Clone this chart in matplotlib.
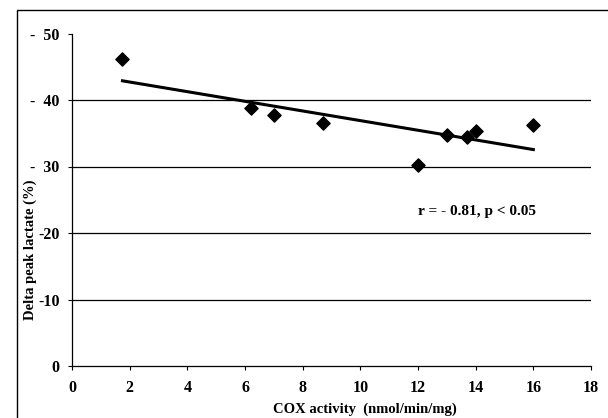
import numpy as np
import matplotlib
matplotlib.use("Agg")
import matplotlib.pyplot as plt
from matplotlib.patches import Rectangle

cox = [1.75, 6.2, 7.0, 8.7, 12.0, 13.0, 13.7, 14.0, 16.0]
lactate = [46.2, 38.8, 37.7, 36.6, 30.3, 34.8, 34.4, 35.3, 36.3]
yticks = [0, 10, 20, 30, 40, 50]
ytick_labels = ["0", "-10", "-20", "-  30", "-  40", "-  50"]
xticks = [0, 2, 4, 6, 8, 10, 12, 14, 16, 18]
annotation = "r = - 0.81, p < 0.05"

plt.rcParams['font.family'] = ['Liberation Serif', 'DejaVu Serif']
plt.rcParams['font.weight'] = 'bold'

fig = plt.figure(figsize=(6.08, 4.18), dpi=100)
ax = fig.add_axes([72/608, 1-366/418, (591-72)/608, (366-33.5)/418])

# outer frame
fig.patches.append(Rectangle((17/608, -0.1), 1.2, 0.1 + 1 - 10/418, transform=fig.transFigure,
                             fill=False, lw=1.0, ec='black'))

for yv in yticks[1:-1]:
    ax.axhline(yv, color='black', lw=0.9, zorder=1)

ax.scatter(cox, lactate, marker='D', s=45, color='black', zorder=3)

coef = np.polyfit(cox, lactate, 1)
xs = np.array([min(cox), max(cox)])
ax.plot(xs, np.polyval(coef, xs), color='black', lw=2.2, zorder=2)

ax.set_xlim(0, 18)
ax.set_ylim(0, 50)
ax.set_xticks(xticks)
ax.set_xticklabels([str(v) for v in xticks], fontsize=11.5, fontweight='bold')
ax.set_yticks(yticks)
ax.set_yticklabels(ytick_labels, fontsize=11.5, fontweight='bold')
ax.tick_params(axis='both', direction='out', length=3, width=0.8)
ax.tick_params(axis='x', pad=7)
ax.tick_params(axis='y', pad=6)
ax.spines['top'].set_visible(False)
ax.spines['right'].set_visible(False)
for s in ['left', 'bottom']:
    ax.spines[s].set_linewidth(0.9)

ax.text(14.05, 23.3, annotation, fontsize=11, fontweight='bold', ha='center', va='center')

fig.text(365/608, 1-409/418, "COX activity  (nmol/min/mg)", fontsize=10.5, fontweight='bold',
         ha='center', va='center')
fig.text(30/608, 1-250/418, "Delta peak lactate (%)", fontsize=10.5, fontweight='bold',
         ha='center', va='center', rotation=90)

fig.savefig("out.png", dpi=100)
